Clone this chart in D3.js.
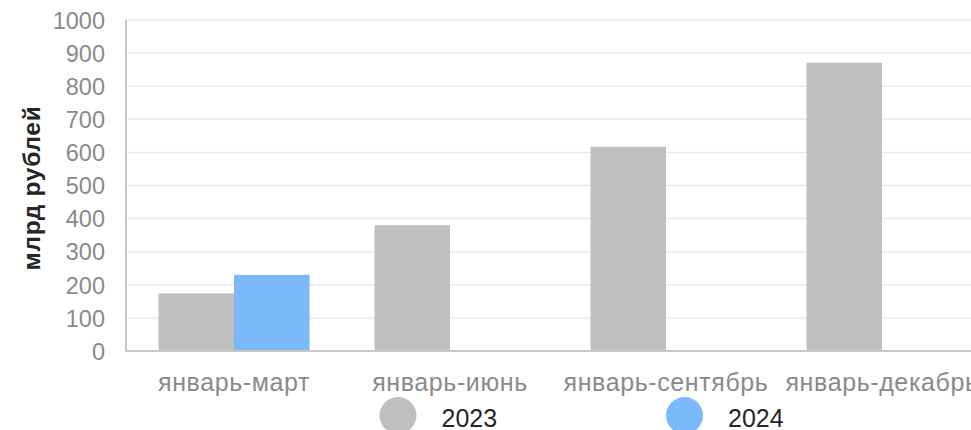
<!DOCTYPE html>
<html><head><meta charset="utf-8">
<script src="https://cdn.jsdelivr.net/npm/d3@7"></script>
<style>body{margin:0;background:#fff;overflow:hidden}svg{display:block;font-family:"Liberation Sans",Arial,sans-serif}</style>
</head><body><svg id="c" width="971" height="430"></svg>
<script>
const categories = ["январь-март","январь-июнь","январь-сентябрь","январь-декабрь"];
const seriesNames = ["2023","2024"];
const values2023 = [174, 380, 617, 871];
const values2024 = [230, null, null, null];
const yTicks = [0,100,200,300,400,500,600,700,800,900,1000];
const colors = ["#bfbfbf","#7cb9fb"];

(function(){
const svg = d3.select("#c");
const mLeft = 126, mTop = 20, mBottom = 351, mRight = 990;
const x = d3.scaleBand().domain(categories).range([mLeft, mRight]).paddingInner(0).paddingOuter(0);
const y = d3.scaleLinear().domain([0,1000]).range([mBottom, mTop]);
const xs = d3.scaleBand().domain(seriesNames).range([0, x.bandwidth()]).paddingInner(0).paddingOuter(0.43);

// gridlines
svg.append("g").selectAll("line").data(yTicks.filter(d=>d>0)).join("line")
  .attr("x1", mLeft).attr("x2", 971).attr("y1", d=>y(d)).attr("y2", d=>y(d))
  .attr("stroke", "#ebebeb").attr("stroke-width", 1.5);

// y tick labels
const yAxis = d3.axisLeft(y).tickValues(yTicks).tickFormat(d3.format("d")).tickSize(0).tickPadding(21);
const ya = svg.append("g").attr("transform", `translate(${mLeft},0)`).call(yAxis);
ya.attr("font-size", null).attr("font-family", null);
ya.select(".domain").remove();
ya.selectAll("text").attr("font-size", 23.5).attr("fill", "#8a8a8a").attr("dy", "0.35em");

// bars
const data = [values2023, values2024];
data.forEach((vals, si) => {
  svg.append("g").selectAll("rect").data(categories.map((c,i)=>({c, v: vals[i]})).filter(d=>d.v!=null)).join("rect")
    .attr("x", d => x(d.c) + xs(seriesNames[si]))
    .attr("width", xs.bandwidth())
    .attr("y", d => y(d.v))
    .attr("height", d => y(0) - y(d.v))
    .attr("fill", colors[si]);
});

// axes lines
svg.append("line").attr("x1", mLeft).attr("x2", mLeft).attr("y1", mTop).attr("y2", mBottom+1)
  .attr("stroke", "#c8c8c8").attr("stroke-width", 2);
svg.append("line").attr("x1", mLeft-1).attr("x2", 971).attr("y1", mBottom).attr("y2", mBottom)
  .attr("stroke", "#c8c8c8").attr("stroke-width", 2);

// x labels
const xAxis = d3.axisBottom(x).tickSize(0);
const xa = svg.append("g").attr("transform", `translate(0,${mBottom})`).call(xAxis);
xa.attr("font-size", null).attr("font-family", null);
xa.select(".domain").remove();
xa.selectAll("text").attr("font-size", 25).attr("letter-spacing", "0.6px").attr("fill", "#8a8a8a")
  .attr("y", 40).attr("dy", 0);

// y title
svg.append("text").attr("transform", "translate(40,188) rotate(-90)")
  .attr("text-anchor", "middle").attr("font-size", 24.5).attr("letter-spacing", "0.7px")
  .attr("font-weight", "bold").attr("fill", "#262626")
  .text("млрд рублей");

// legend
const legendX = [398, 684.5];
seriesNames.forEach((n, i) => {
  svg.append("circle").attr("cx", legendX[i]).attr("cy", 415.5).attr("r", 18.5).attr("fill", colors[i]);
  svg.append("text").attr("x", legendX[i] + 43.5).attr("y", 427).attr("font-size", 25).attr("fill", "#262626").text(n);
});
})();
</script></body></html>
